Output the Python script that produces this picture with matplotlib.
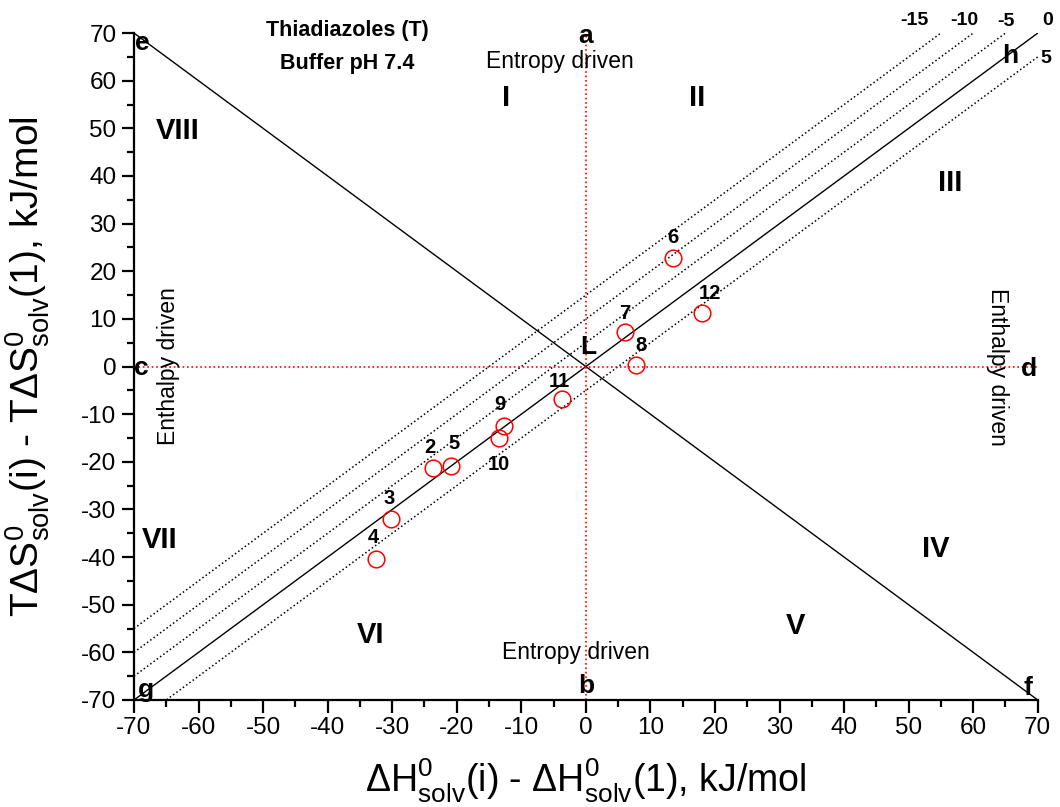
import numpy as np
import matplotlib.pyplot as plt
from matplotlib.ticker import MultipleLocator

plt.rcParams['font.family'] = ['Liberation Sans', 'DejaVu Sans']
plt.rcParams['mathtext.fontset'] = 'custom'
plt.rcParams['mathtext.rm'] = 'Liberation Sans'
plt.rcParams['mathtext.it'] = 'Liberation Sans:italic'
plt.rcParams['mathtext.bf'] = 'Liberation Sans:bold'
plt.rcParams['axes.unicode_minus'] = False

# Données : composés (i), dH et TdS relatifs au composé 1 (kJ/mol)
labels = ['2', '3', '4', '5', '6', '7', '8', '9', '10', '11', '12']
dH = [-23.7, -30.2, -32.5, -20.9, 13.5, 6.0, 7.7, -12.7, -13.5, -3.7, 18.0]
TdS = [-21.4, -32.1, -40.3, -20.8, 22.7, 7.3, 0.4, -12.4, -15.1, -6.9, 11.3]

# décalages des labels (points)
lbl_off = {'2': (-2, 15), '3': (-1, 15), '4': (-2, 15), '5': (2, 16), '6': (0, 15),
           '7': (0, 13), '8': (4, 14), '9': (-3, 15), '10': (0, -19), '11': (-2, 13),
           '12': (6, 14)}

# iso-dG lines: TdS = dH - dG
dG_lines = [-15, -10, -5, 0, 5]
dG_pos = [(50.9, 72.6), (58.6, 72.6), (65, 72.4), (71.5, 72.6), (71.2, 64.7)]
lim = 70

fig = plt.figure(figsize=(10.6, 8.07), dpi=100)
ax = fig.add_axes([0.1264, 0.1326, 0.8526, 0.8264])

xx = np.linspace(-lim, lim, 500)
for g in dG_lines:
    yy = xx - g
    m = (yy >= -lim) & (yy <= lim)
    if g == 0:
        ax.plot(xx[m], yy[m], '-', color='black', lw=1.0)
    else:
        ax.plot(xx[m], yy[m], ':', color='black', lw=1.1)

ax.plot([-lim, lim], [lim, -lim], '-', color='black', lw=1.0)
ax.axhline(0, color='red', ls=':', lw=1.2)
ax.axvline(0, color='red', ls=':', lw=1.2)

ax.plot(dH, TdS, 'o', mfc='none', mec='red', ms=12, mew=1.1, zorder=5)
for lab, x, y in zip(labels, dH, TdS):
    ax.annotate(lab, (x, y), xytext=lbl_off[lab], textcoords='offset points',
                ha='center', va='center', fontsize=14.5, fontweight='bold')

# labels des lignes dG
for g, (tx, ty) in zip(dG_lines, dG_pos):
    ax.text(tx, ty, str(g), fontsize=14, fontweight='bold', ha='center', va='center', clip_on=False)

# lettres
letters = {'a': (0, 69.3), 'b': (0, -67), 'c': (-68.8, -0.3), 'd': (68.7, -0.5),
           'e': (-68.7, 68), 'f': (68.5, -67.5), 'g': (-68.2, -68), 'h': (65.8, 65.2),
           'L': (0.4, 4.2)}
for k, (tx, ty) in letters.items():
    ax.text(tx, ty, k, fontsize=19, fontweight='bold', ha='center', va='center')

# régions
regions = {'I': (-12.4, 56.3), 'II': (17.3, 56.3), 'III': (56.4, 38.6), 'IV': (54.2, -38.2),
           'V': (32.5, -54.4), 'VI': (-33.4, -56.3), 'VII': (-66, -36.5), 'VIII': (-63.2, 49.5)}
for k, (tx, ty) in regions.items():
    ax.text(tx, ty, k, fontsize=21, fontweight='bold', ha='center', va='center')

ax.text(-4, 64, 'Entropy driven', fontsize=16.5, ha='center', va='center')
ax.text(-1.5, -60, 'Entropy driven', fontsize=16.5, ha='center', va='center')
ax.text(-64.7, 0, 'Enthalpy driven', fontsize=16.5, ha='center', va='center', rotation=90)
ax.text(63.8, 0, 'Enthalpy driven', fontsize=16.5, ha='center', va='center', rotation=270)
ax.text(-36.9, 70.5, 'Thiadiazoles (T)', fontsize=15.5, fontweight='bold', ha='center', va='center')
ax.text(-36.9, 63.6, 'Buffer pH 7.4', fontsize=15.5, fontweight='bold', ha='center', va='center')

ax.set_xlim(-lim, lim)
ax.set_ylim(-lim, lim)
ax.xaxis.set_major_locator(MultipleLocator(10))
ax.yaxis.set_major_locator(MultipleLocator(10))
ax.xaxis.set_minor_locator(MultipleLocator(5))
ax.yaxis.set_minor_locator(MultipleLocator(5))
ax.spines['top'].set_visible(False)
ax.spines['right'].set_visible(False)
ax.spines['left'].set_linewidth(1.6)
ax.spines['bottom'].set_linewidth(1.6)
ax.tick_params(which='major', direction='out', length=9, width=1.6, labelsize=17.5)
ax.tick_params(which='minor', direction='out', length=5, width=1.6)

ax.set_xlabel(r'$\Delta$H$^{0}_{\rm solv}$(i) - $\Delta$H$^{0}_{\rm solv}$(1), kJ/mol', fontsize=27)
ax.set_ylabel(r'T$\Delta$S$^{0}_{\rm solv}$(i) - T$\Delta$S$^{0}_{\rm solv}$(1), kJ/mol', fontsize=28)
ax.xaxis.set_label_coords(0.5, -0.085)
ax.yaxis.set_label_coords(-0.091, 0.5)

fig.savefig('out.png', dpi=100)
